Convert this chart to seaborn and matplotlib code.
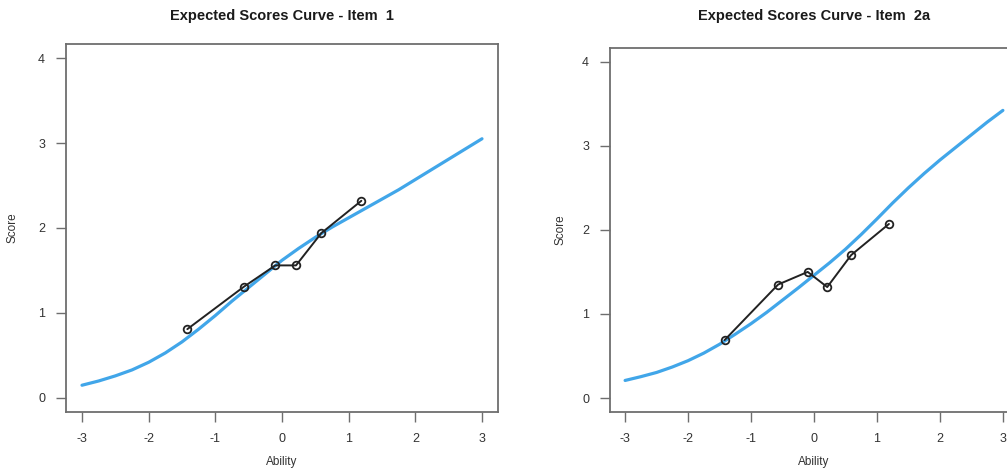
import numpy as np
import pandas as pd
import matplotlib
matplotlib.use("Agg")
import matplotlib.pyplot as plt
import seaborn as sns

# Ability grid for the model expected-score curves
ability_grid = [-3.0, -2.75, -2.5, -2.25, -2.0, -1.75, -1.5, -1.25, -1.0, -0.75, -0.5, -0.25,
                0.0, 0.25, 0.5, 0.75, 1.0, 1.25, 1.5, 1.75, 2.0, 2.25, 2.5, 2.75, 3.0]

# Model expected scores, item 1
expected_item1 = [0.15, 0.20, 0.26, 0.33, 0.42, 0.53, 0.66, 0.81, 0.97, 1.14, 1.30, 1.46,
                  1.62, 1.76, 1.89, 2.01, 2.12, 2.23, 2.34, 2.45, 2.57, 2.69, 2.81, 2.93, 3.05]

# Model expected scores, item 2a
expected_item2a = [0.21, 0.255, 0.305, 0.37, 0.445, 0.535, 0.64, 0.76, 0.885, 1.02, 1.165, 1.31,
                   1.46, 1.61, 1.77, 1.945, 2.13, 2.32, 2.50, 2.67, 2.83, 2.98, 3.13, 3.28, 3.42]

# Observed mean scores by ability group
group_ability = [-1.42, -0.57, -0.10, 0.21, 0.59, 1.19]
observed_item1 = [0.81, 1.31, 1.56, 1.56, 1.94, 2.32]
observed_item2a = [0.69, 1.35, 1.50, 1.32, 1.70, 2.07]

titles = ["Expected Scores Curve - Item  1", "Expected Scores Curve - Item  2a"]
x_ticks = [-3, -2, -1, 0, 1, 2, 3]
y_ticks = [0, 1, 2, 3, 4]

sns.set_theme(style="white")
plt.rcParams["font.family"] = ["Liberation Sans", "DejaVu Sans"]

W, H = 1007, 471
fig = plt.figure(figsize=(W / 100, H / 100), dpi=100)

# panel boxes in pixels: left, right, top, bottom
boxes = [(66, 498, 44, 412), (610, 1018, 47.7, 412)]
curves = [expected_item1, expected_item2a]
observed = [observed_item1, observed_item2a]

frame_col = "#6e6e6e"
text_col = "#333333"
blue = "#41a6e9"

for box, title, curve, obs in zip(boxes, titles, curves, observed):
    l, r, t, b = box
    w, h = r - l, b - t
    ax = fig.add_axes([l / W, (H - b) / H, w / W, h / H])

    curve_df = pd.DataFrame({"Ability": ability_grid, "Score": curve})
    obs_df = pd.DataFrame({"Ability": group_ability, "Score": obs})

    sns.lineplot(data=curve_df, x="Ability", y="Score", ax=ax, color=blue,
                 linewidth=2.3, sort=False, zorder=2)
    sns.lineplot(data=obs_df, x="Ability", y="Score", ax=ax, color="#222222",
                 linewidth=1.4, sort=False, marker="o", markersize=5.5,
                 markerfacecolor="none", markeredgecolor="#222222",
                 markeredgewidth=1.3, zorder=3)

    ax.set_xlim(-3.24, 3.24)
    ax.set_ylim(-0.165, 4.165)
    ax.set_xticks(x_ticks)
    ax.set_yticks(y_ticks)
    ax.set_xticklabels([str(v) for v in x_ticks])
    ax.set_yticklabels([str(v) for v in y_ticks])
    ax.tick_params(axis="both", direction="out", length=7, width=1.0,
                   color=frame_col, labelcolor=text_col, labelsize=9,
                   bottom=True, left=True)
    ax.tick_params(axis="x", pad=8)
    ax.tick_params(axis="y", pad=8)
    for sp in ax.spines.values():
        sp.set_color(frame_col)
        sp.set_linewidth(1.3)
        sp.set_visible(True)

    ax.set_xlabel("Ability", fontsize=8.5, color=text_col)
    ax.set_ylabel("Score", fontsize=8.5, color=text_col)
    ax.xaxis.label.set_va("center")
    ax.yaxis.label.set_va("center")
    ax.xaxis.set_label_coords(0.5, (b - 462) / h)
    ax.yaxis.set_label_coords(((13 if l < 300 else 560) - l) / w, 0.5)

    ax.set_title(title, fontsize=10.5, fontweight="bold", color="#1a1a1a",
                 y=1 + (t - 16) / h, va="center", pad=0)

fig.savefig("out.png", dpi=100, facecolor="white")
